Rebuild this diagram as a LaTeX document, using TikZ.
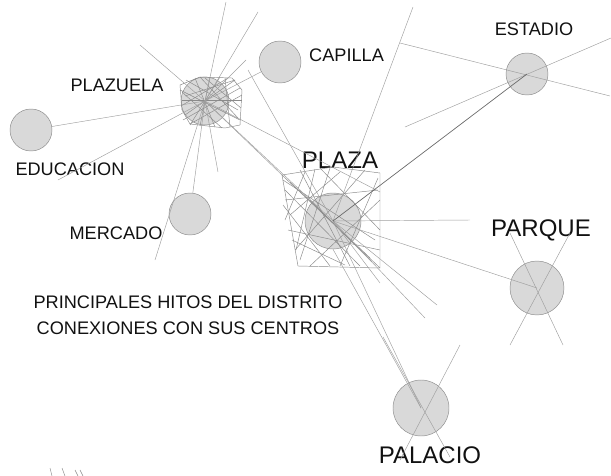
\documentclass[tikz,border=0pt]{standalone}
\usepackage{fontspec}
\setmainfont{Liberation Sans}
\usetikzlibrary{positioning}
\definecolor{hitofill}{HTML}{D9D9D9}
\definecolor{hitoline}{HTML}{8C8C8C}
\definecolor{linkgray}{HTML}{A0A0A0}
\definecolor{linkdark}{HTML}{6A6A6A}
\definecolor{hatchgray}{HTML}{8A8A8A}
\definecolor{inktext}{HTML}{111111}
\tikzset{
  hito/.style={
    circle, draw=hitoline, thin, fill=hitofill,
    minimum size=#1, inner sep=0pt
  },
  hitolabel/.style={anchor=base, text=inktext, inner sep=0pt, font=\fontsize{15.5}{18}\selectfont},
  biglabel/.style={anchor=base, text=inktext, inner sep=0pt, font=\fontsize{20.5}{24}\selectfont},
  link/.style={draw=linkgray, line width=0.4pt},
  darklink/.style={draw=linkdark, line width=0.6pt},
  hatch/.style={draw=hatchgray, line width=0.4pt},
}
\begin{document}
\begin{tikzpicture}[x=0.03cm, y=-0.03cm]
  \useasboundingbox (0,0) rectangle (611,476);
  % hitos
  \node[hito=1.44cm] (plazuela) at (205,101) {};
  \node[hito=1.26cm] (capilla) at (280,62) {};
  \node[hito=1.26cm] (estadio) at (527,74) {};
  \node[hito=1.26cm] (educacion) at (31,130) {};
  \node[hito=1.26cm] (mercado) at (190,214) {};
  \node[hito=1.68cm] (plaza) at (333,221) {};
  \node[hito=1.62cm] (parque) at (537,288) {};
  \node[hito=1.68cm] (palacio) at (421,408) {};
  % labels
  \node[hitolabel] (lplazuela) at (117,91) {PLAZUELA};
  \node[hitolabel, anchor=base west] (lcapilla) at (309,61) {CAPILLA};
  \node[hitolabel] (lestadio) at (534,35) {ESTADIO};
  \node[hitolabel] (leducacion) at (70,175) {EDUCACION};
  \node[hitolabel] (lmercado) at (116,239) {MERCADO};
  \node[biglabel] (lplaza) at (340,168) {PLAZA};
  \node[biglabel] (lparque) at (541,236) {PARQUE};
  \node[biglabel] (lpalacio) at (430,463) {PALACIO};
  \node[text=inktext, align=center, inner sep=0pt, font=\fontsize{15.5}{22}\selectfont]
    (titulo) at (188,315.5) {PRINCIPALES HITOS DEL DISTRITO\\CONEXIONES CON SUS CENTROS};
  % tangled blocks round the two centres
  \draw[hatch] (180,85) -- (200,77) -- (232,78) -- (242,90) -- (240,125) -- (225,128) -- (190,124) -- (182,110) -- cycle;
  \foreach \a/\b in {{180,90}/{240,120},{185,115}/{235,80},{195,78}/{215,127},{210,77}/{200,126},
                     {182,100}/{242,100},{225,78}/{230,127},{186,80}/{238,110},{183,120}/{240,88},
                     {220,77}/{190,125},{235,80}/{185,96},{181,106}/{228,78},{190,124}/{242,95},
                     {200,77}/{238,118},{182,92}/{222,128},{205,78}/{241,108}}
    \draw[hatch] (\a) -- (\b);
  \draw[hatch] (282,175) -- (333,167) -- (380,173) -- (380,268) -- (298,266) -- cycle;
  \foreach \a/\b in {{282,175}/{380,268},{285,190}/{360,266},{290,215}/{340,172},{283,180}/{375,240},
                     {295,250}/{365,170},{310,266}/{380,200},{288,230}/{380,250},{300,170}/{350,266},
                     {320,168}/{380,230},{330,168}/{300,260},{285,200}/{378,190},{292,240}/{345,265},
                     {340,266}/{378,178},{305,172}/{285,220},{310,200}/{372,262},{283,205}/{330,266},
                     {290,182}/{370,258},{315,169}/{296,250}}
    \draw[hatch] (\a) -- (\b);
  % free ends
  \foreach \n/\xy in {pz1/{140,45},pz2/{226,2},pz3/{258,12},pz4/{246,60},pz5/{58,180},
                      pz6/{155,260},pz7/{218,172},pz8/{282,175},pz9/{380,192},
                      pl1/{413,7},pl2/{248,70},pl3/{470,220},pl4/{437,305},pl5/{425,318},pl6/{380,283},
                      es1/{400,43},es2/{610,96},es3/{405,127},es4/{611,38},
                      pa1/{510,233},pa2/{563,345},pa3/{570,233},pa4/{510,345},
                      pc1/{383,337},pc2/{450,457},pc3/{460,345},pc4/{400,460}}
    \coordinate (\n) at (\xy);
  % connections
  \foreach \n in {pz1,pz2,pz3,pz4,pz5,pz6,pz7,pz8,pz9}
    \draw[link] (plazuela.center) -- (\n);
  \foreach \n in {pl1,pl2,pl3,pl4,pl5,pl6}
    \draw[link] (plaza.center) -- (\n);
  \foreach \a/\b in {es1/es2,es3/es4,pa1/pa2,pa3/pa4,pc1/pc2,pc3/pc4}
    \draw[link] (\a) -- (\b);
  \foreach \a in {educacion,capilla,mercado}
    \draw[link] (\a) -- (plazuela.center);
  \draw[link] (plazuela.center) -- (plaza.center);
  \draw[link] (plaza.center) -- (parque.center);
  \draw[link] (plaza.center) -- (palacio.center);
  \draw[link] (plaza.south) -- (palacio.center);
  \draw[darklink] (plaza.center) -- (estadio.center);
  % marks at the foot
  \foreach \a/\b in {{50,468}/{52,476},{62,468}/{65,476},{75,470}/{78,476},{80,470}/{83,476}}
    \draw[hatch] (\a) -- (\b);
\end{tikzpicture}
\end{document}
